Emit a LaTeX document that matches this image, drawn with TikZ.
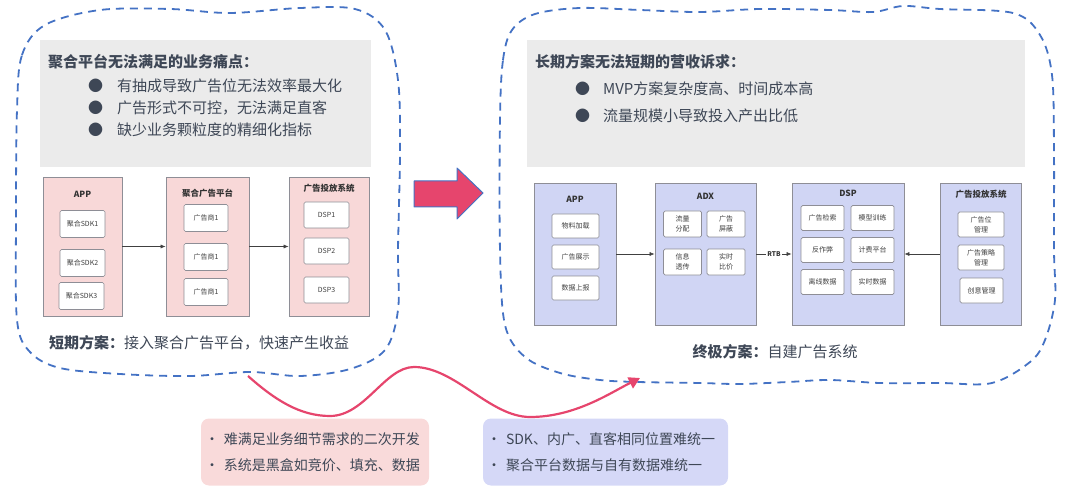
\documentclass[tikz,border=0pt]{standalone}
\usepackage{fontspec}
\setmainfont{Noto Sans CJK SC}
\usetikzlibrary{arrows.meta}

\definecolor{cloudblue}{HTML}{4472C4}
\definecolor{panelgray}{HTML}{EBEBEB}
\definecolor{ink}{HTML}{3E4756}
\definecolor{boxline}{HTML}{8E8E96}
\definecolor{pinkfill}{HTML}{F8D8D8}
\definecolor{bluefill}{HTML}{D0D5F4}
\definecolor{notepink}{HTML}{F9DADA}
\definecolor{noteblue}{HTML}{D5D8F7}
\definecolor{hotpink}{HTML}{E6456D}

\newcommand{\notedot}{\makebox[14pt]{•}\hspace{5pt}}

\begin{document}
\begin{tikzpicture}[x=1pt,y=-1pt,
  cloud/.style={draw=cloudblue, line width=1.8pt, dash pattern=on 8pt off 6pt},
  head/.style={anchor=west, inner sep=0pt, text=ink, font=\fontsize{15}{18}\selectfont\bfseries},
  item/.style={anchor=west, inner sep=0pt, text=ink, font=\fontsize{15}{18}\selectfont},
  pinkbox/.style={draw=boxline, fill=pinkfill, line width=0.7pt, inner sep=0pt},
  bluebox/.style={draw=boxline, fill=bluefill, line width=0.7pt, inner sep=0pt},
  cell/.style={draw=boxline, fill=white, rounded corners=1.5pt, line width=0.7pt, inner sep=0pt,
    align=center, text=black!75, font=\fontsize{7}{10}\selectfont},
  title/.style={inner sep=0pt, text=black!80, font=\fontsize{8.5}{10}\selectfont\bfseries},
  link/.style={draw=black!75, line width=0.6pt, -{Latex[length=5pt,width=4pt]}},
  note/.style={rounded corners=8pt, inner sep=0pt, align=left, text=ink,
    font=\fontsize{14}{26}\selectfont},
  wavearrow/.style={draw=hotpink, line width=2.2pt, -{Triangle[length=11pt,width=12pt]}}
]
\useasboundingbox (0,0) rectangle (1080,492);

% Clouds
\draw [cloud] plot [smooth cycle, tension=0.55] coordinates {
  (17,110) (22,55) (45,25) (100,10) (170,9) (230,13) (300,8) (355,9) (385,30)
  (398,80) (400,150) (398,250) (398,310) (385,350) (350,369) (300,376) (250,372)
  (190,376) (120,374) (60,368) (30,352) (17,320) (16,220)};
\draw [cloud] plot [smooth cycle, tension=0.55] coordinates {
  (500,120) (503,60) (512,30) (535,14) (580,8) (640,10) (700,12) (760,9) (830,10)
  (873,12) (903,6) (940,9) (1013,13) (1040,35) (1052,75) (1054,150) (1054,250)
  (1055,300) (1045,340) (1030,362) (992,383) (940,383) (880,383) (830,380) (788,382)
  (740,384) (700,383) (638,382) (600,380) (560,373) (525,357) (505,325) (500,250)};

% Panels
\fill [panelgray] (40,40) rectangle (371,167);
\fill [panelgray] (527,40) rectangle (1025,167);

\node [head] (lhead) at (48,62) {聚合平台无法满足的业务痛点：};
\node [item] (lp1) at (88,86) {●\hspace{14pt}有抽成导致广告位无法效率最大化};
\node [item] (lp2) at (88,108) {●\hspace{14pt}广告形式不可控，无法满足直客};
\node [item] (lp3) at (88,130) {●\hspace{14pt}缺少业务颗粒度的精细化指标};

\node [head] (rhead) at (535,62) {长期方案无法短期的营收诉求：};
\node [item] (rp1) at (575,89) {●\hspace{13pt}MVP方案复杂度高、时间成本高};
\node [item] (rp2) at (575,116) {●\hspace{13pt}流量规模小导致投入产出比低};

% Short term
\node [pinkbox, minimum width=79, minimum height=139] (app) at (82.5,246.5) {};
\node [pinkbox, minimum width=83, minimum height=139] (agg) at (207.5,246.5) {};
\node [pinkbox, minimum width=80, minimum height=139] (dsps) at (329,246.5) {};
\node [title] (appt) at (82.5,194) {APP};
\node [title] (aggt) at (207.5,193) {聚合广告平台};
\node [title] (dspst) at (329,188) {广告投放系统};

\node [cell, minimum width=45, minimum height=27] (sdk1) at (82.5,224) {聚合SDK1};
\node [cell, minimum width=45, minimum height=27] (sdk2) at (82.5,263) {聚合SDK2};
\node [cell, minimum width=45, minimum height=27] (sdk3) at (81.5,296) {聚合SDK3};
\node [cell, minimum width=44, minimum height=27] (adv1) at (206,218) {广告商1};
\node [cell, minimum width=44, minimum height=27] (adv2) at (206,257) {广告商1};
\node [cell, minimum width=44, minimum height=27] (adv3) at (206,292) {广告商1};
\node [cell, minimum width=45, minimum height=26] (dsp1) at (326.5,215) {DSP1};
\node [cell, minimum width=45, minimum height=26] (dsp2) at (326.5,251) {DSP2};
\node [cell, minimum width=45, minimum height=26] (dsp3) at (326.5,290) {DSP3};

\draw [link] (app) -- (agg);
\draw [link] (agg) -- (dsps);

\node [item] (lsum) at (49,343) {\textbf{短期方案：}接入聚合广告平台，快速产生收益};

% Long term
\node [bluebox, minimum width=82, minimum height=142] (app2) at (575,254) {};
\node [bluebox, minimum width=101, minimum height=142] (adx) at (705.5,254) {};
\node [bluebox, minimum width=112, minimum height=142] (dsp) at (848,254) {};
\node [bluebox, minimum width=81, minimum height=142] (ads) at (980.5,254) {};
\node [title] (app2t) at (575,199) {APP};
\node [title] (adxt) at (705.5,196) {ADX};
\node [title] (dspt) at (848,193) {DSP};
\node [title] (adst) at (981,194) {广告投放系统};

\node [cell, minimum width=47, minimum height=24] (mat) at (575.5,226) {物料加载};
\node [cell, minimum width=47, minimum height=24] (show) at (575.5,257) {广告展示};
\node [cell, minimum width=47, minimum height=24] (rep) at (575.5,288) {数据上报};

\node [cell, minimum width=38, minimum height=26] (flow) at (682.5,224) {流量\\分配};
\node [cell, minimum width=38, minimum height=26] (block) at (726,224) {广告\\屏蔽};
\node [cell, minimum width=38, minimum height=26] (pass) at (682.5,262) {信息\\透传};
\node [cell, minimum width=38, minimum height=26] (bid) at (726,262) {实时\\比价};

\node [cell, minimum width=43, minimum height=25] (search) at (822.5,218) {广告检索};
\node [cell, minimum width=43, minimum height=25] (model) at (872.5,218) {模型训练};
\node [cell, minimum width=43, minimum height=25] (fraud) at (822.5,250) {反作弊};
\node [cell, minimum width=43, minimum height=25] (bill) at (872.5,250) {计费平台};
\node [cell, minimum width=43, minimum height=25] (offl) at (822.5,282) {离线数据};
\node [cell, minimum width=43, minimum height=25] (onl) at (872.5,282) {实时数据};

\node [cell, minimum width=46, minimum height=25] (slot) at (981,224.5) {广告位\\管理};
\node [cell, minimum width=46, minimum height=25] (strat) at (981,257.5) {广告策略\\管理};
\node [cell, minimum width=43, minimum height=25] (crea) at (981.5,290.5) {创意管理};

\draw [link] (app2) -- (adx);
\draw [link] (adx) -- node [fill=white, inner sep=1pt, text=black!80,
  font=\fontsize{6.5}{8}\selectfont\bfseries] (rtb) {RTB} (dsp);
\draw [link] (ads) -- (dsp);

\node [item, anchor=center] (rsum) at (775,352) {\textbf{终极方案：}自建广告系统};

% Big arrow
\filldraw [fill=hotpink, draw=cloudblue, line width=1pt, line join=round]
  (414,181) -- (457,181) -- (457,168) -- (483,193) -- (457,219) -- (457,207) -- (414,207) -- cycle;

% Notes
\node [note, fill=notepink, minimum width=228, minimum height=67, text width=220] (pnote) at (315,452)
  {\notedot 难满足业务细节需求的二次开发\\\notedot 系统是黑盒如竞价、填充、数据};
\node [note, fill=noteblue, minimum width=245, minimum height=67, text width=237] (bnote) at (605.5,452)
  {\notedot SDK、内广、直客相同位置难统一\\\notedot 聚合平台数据与自有数据难统一};

% Wave
\coordinate (ws) at (248,376);
\coordinate (we) at (640,378);
\draw [wavearrow] (ws) .. controls (275,400) and (300,416) .. (330,416)
  .. controls (365,416) and (385,367) .. (414,367)
  .. controls (455,367) and (490,417) .. (530,417)
  .. controls (575,417) and (610,393) .. (we);
\end{tikzpicture}
\end{document}
